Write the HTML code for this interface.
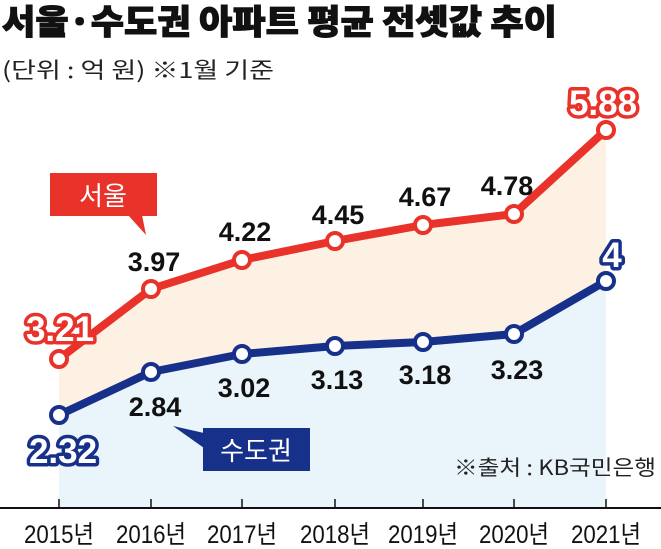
<!DOCTYPE html>
<html><head><meta charset="utf-8"><style>
html,body{margin:0;padding:0;background:#fff;}
svg{display:block;}
text{font-family:"Liberation Sans","Noto Sans CJK KR",sans-serif;}
</style></head><body>
<svg width="661" height="549" viewBox="0 0 661 549" xmlns="http://www.w3.org/2000/svg">
<text x="2" y="34" font-size="34" font-weight="900" fill="#111" stroke="#111" stroke-width="1" style="font-family:'Noto Sans CJK KR',sans-serif" textLength="555" lengthAdjust="spacingAndGlyphs">서울·수도권 아파트 평균 전셋값 추이</text>
<text x="2" y="78" font-size="22" fill="#222" style="font-family:'Noto Sans CJK KR',sans-serif" textLength="272" lengthAdjust="spacingAndGlyphs">(단위 : 억 원) ※1월 기준</text>
<polygon points="59,359 151,289 242,260 335,241 423,225 514,214 606,130 606,281 514,334 423,342 335,346 242,354 151,372 59,415" fill="#fdf1e3"/>
<polygon points="59,415 151,372 242,354 335,346 423,342 514,334 606,281 606,508 59,508" fill="#e9f5fb"/>
<line x1="0" y1="508" x2="661" y2="508" stroke="#111" stroke-width="2"/>
<g stroke="#111" stroke-width="1.5">
<line x1="59" y1="499" x2="59" y2="508"/><line x1="151" y1="499" x2="151" y2="508"/><line x1="242" y1="499" x2="242" y2="508"/><line x1="335" y1="499" x2="335" y2="508"/><line x1="423" y1="499" x2="423" y2="508"/><line x1="514" y1="499" x2="514" y2="508"/><line x1="606" y1="499" x2="606" y2="508"/>
</g>
<g font-size="25" fill="#111" text-anchor="middle">
<text x="59" y="543" textLength="70" lengthAdjust="spacingAndGlyphs">2015년</text>
<text x="151" y="543" textLength="70" lengthAdjust="spacingAndGlyphs">2016년</text>
<text x="242" y="543" textLength="70" lengthAdjust="spacingAndGlyphs">2017년</text>
<text x="335" y="543" textLength="70" lengthAdjust="spacingAndGlyphs">2018년</text>
<text x="423" y="543" textLength="70" lengthAdjust="spacingAndGlyphs">2019년</text>
<text x="514" y="543" textLength="70" lengthAdjust="spacingAndGlyphs">2020년</text>
<text x="606" y="543" textLength="70" lengthAdjust="spacingAndGlyphs">2021년</text>
</g>
<polyline points="59,359 151,289 242,260 335,241 423,225 514,214 606,130" fill="none" stroke="#e8322a" stroke-width="8" stroke-linejoin="round"/>
<polyline points="59,415 151,372 242,354 335,346 423,342 514,334 606,281" fill="none" stroke="#17318a" stroke-width="8" stroke-linejoin="round"/>
<g fill="#fff" stroke="#e8322a" stroke-width="4">
<circle cx="59" cy="359" r="8"/><circle cx="151" cy="289" r="8"/><circle cx="242" cy="260" r="8"/><circle cx="335" cy="241" r="8"/><circle cx="423" cy="225" r="8"/><circle cx="514" cy="214" r="8"/><circle cx="606" cy="130" r="8"/>
</g>
<g fill="#fff" stroke="#17318a" stroke-width="4">
<circle cx="59" cy="415" r="8"/><circle cx="151" cy="372" r="8"/><circle cx="242" cy="354" r="8"/><circle cx="335" cy="346" r="8"/><circle cx="423" cy="342" r="8"/><circle cx="514" cy="334" r="8"/><circle cx="606" cy="281" r="8"/>
</g>
<g font-size="27" font-weight="bold" fill="#111" text-anchor="middle">
<text x="154" y="271">3.97</text>
<text x="245" y="241">4.22</text>
<text x="338" y="224">4.45</text>
<text x="425" y="206">4.67</text>
<text x="507" y="195">4.78</text>
<text x="155" y="416">2.84</text>
<text x="244" y="397">3.02</text>
<text x="337" y="389">3.13</text>
<text x="425" y="384">3.18</text>
<text x="517" y="379">3.23</text>
</g>
<g font-size="35" font-weight="bold" text-anchor="middle" stroke-linejoin="round" paint-order="stroke" fill="#fff" stroke-width="7">
<text x="60" y="341" stroke="#e8322a">3.21</text>
<text x="603" y="115" stroke="#e8322a">5.88</text>
<text x="63" y="463" stroke="#17318a">2.32</text>
<text x="612" y="267" stroke="#17318a">4</text>
</g>
<rect x="50" y="173" width="107" height="43" fill="#e8322a"/>
<polygon points="128,215 142,215 146,235" fill="#e8322a"/>
<text x="103" y="205" font-size="26" fill="#fff" text-anchor="middle" style="font-family:'Noto Sans CJK KR',sans-serif">서울</text>
<rect x="203" y="428" width="107" height="43" fill="#17318a"/>
<polygon points="173,426 204,433 204,448" fill="#17318a"/>
<text x="256" y="460" font-size="26" fill="#fff" text-anchor="middle" style="font-family:'Noto Sans CJK KR',sans-serif">수도권</text>
<text x="656" y="475" font-size="21" fill="#222" text-anchor="end" style="font-family:'Noto Sans CJK KR',sans-serif" textLength="202" lengthAdjust="spacingAndGlyphs">※출처 : KB국민은행</text>
</svg>
</body></html>
